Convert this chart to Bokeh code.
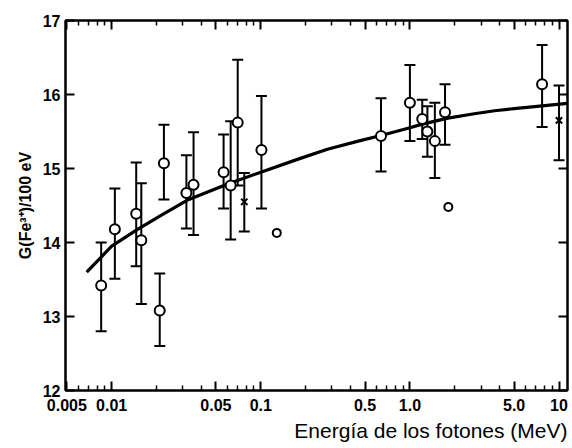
from bokeh.plotting import figure
from bokeh.models import (ColumnDataSource, Whisker, TeeHead, FixedTicker, LinearAxis,
                          LogAxis, Title, Range1d)
from bokeh.embed import file_html
from bokeh.resources import INLINE

# Circle data points with error bars
circ_x = [0.0085, 0.0105, 0.0146, 0.0158, 0.021, 0.0224, 0.0317, 0.0354, 0.0563, 0.0628,
          0.070, 0.101, 0.64, 1.0, 1.21, 1.31, 1.47, 1.72, 7.7]
circ_y = [13.42, 14.18, 14.39, 14.03, 13.08, 15.07, 14.67, 14.78, 14.95, 14.77,
          15.62, 15.25, 15.44, 15.89, 15.67, 15.50, 15.37, 15.76, 16.14]
circ_up = [0.58, 0.55, 0.69, 0.77, 0.50, 0.52, 0.51, 0.71, 0.51, 0.87,
           0.85, 0.73, 0.51, 0.51, 0.26, 0.34, 0.52, 0.38, 0.53]
circ_lo = [0.62, 0.67, 0.71, 0.86, 0.48, 0.49, 0.48, 0.68, 0.49, 0.73,
           0.85, 0.79, 0.48, 0.52, 0.27, 0.34, 0.50, 0.44, 0.58]

# Cross data points with error bars
cross_x = [0.0775, 10.0]
cross_y = [14.55, 15.65]
cross_up = [0.39, 0.47]
cross_lo = [0.40, 0.54]

# Circles without error bars
single_x = [0.128, 1.81]
single_y = [14.13, 14.48]

# Fitted curve
curve_x = [0.0068, 0.01, 0.015, 0.022, 0.032, 0.06, 0.1, 0.18, 0.28, 0.45, 0.65, 1.0,
           1.21, 1.8, 2.7, 3.7, 5.0, 11.4]
curve_y = [13.60, 13.95, 14.18, 14.38, 14.57, 14.79, 14.95, 15.13, 15.26, 15.37, 15.45, 15.55,
           15.60, 15.68, 15.74, 15.78, 15.81, 15.88]

x_major = [0.005, 0.01, 0.05, 0.1, 0.5, 1.0, 5.0, 10.0]
x_labels = {0.005: "0.005", 0.01: "0.01", 0.05: "0.05", 0.1: "0.1",
            0.5: "0.5", 1.0: "1.0", 5.0: "5.0", 10.0: "10"}
y_major = [12, 13, 14, 15, 16, 17]

x_minor = []
for dec in [0.001, 0.01, 0.1, 1.0]:
    for m in range(2, 10):
        v = round(m * dec, 6)
        if v not in x_major and 0.0049 <= v <= 11.4:
            x_minor.append(v)

FONT = "Liberation Sans"

p = figure(width=572, height=448, x_axis_type="log", output_backend="svg",
           toolbar_location=None, x_range=Range1d(0.0049, 11.4), y_range=Range1d(12, 17),
           min_border_left=65, min_border_right=5, min_border_top=20, min_border_bottom=58)
p.grid.visible = False
p.background_fill_color = "white"
p.border_fill_color = "white"
p.outline_line_color = "black"
p.outline_line_width = 2

def style_axis(ax, labels=True):
    ax.axis_line_width = 2
    ax.axis_line_color = "black"
    ax.major_tick_in = 9
    ax.major_tick_out = 0
    ax.minor_tick_in = 5
    ax.minor_tick_out = 0
    ax.major_tick_line_width = 2
    ax.minor_tick_line_width = 1.5
    if labels:
        ax.major_label_text_font = FONT
        ax.major_label_text_font_style = "bold"
        ax.major_label_text_font_size = "16px"
        ax.major_label_text_color = "black"
    else:
        ax.major_label_text_font_size = "1px"
        ax.major_label_text_color = None
        ax.major_label_standoff = 0

xt = FixedTicker(ticks=x_major, minor_ticks=x_minor)
yt = FixedTicker(ticks=y_major, minor_ticks=[])

xa = p.xaxis[0]
xa.ticker = xt
xa.major_label_overrides = x_labels
style_axis(xa)
xa.major_label_standoff = 8

ya = p.yaxis[0]
ya.ticker = yt
style_axis(ya)
ya.major_label_standoff = 5
ya.axis_label = "G(Fe³⁺)/100 eV"
ya.axis_label_text_font = FONT
ya.axis_label_text_font_style = "bold"
ya.axis_label_text_font_size = "16px"
ya.axis_label_text_color = "black"
ya.axis_label_standoff = 6

top = LogAxis(ticker=xt)
style_axis(top, labels=False)
p.add_layout(top, "above")
right = LinearAxis(ticker=yt)
style_axis(right, labels=False)
p.add_layout(right, "right")

p.add_layout(Title(text="Energía de los fotones (MeV)", align="right",
                   text_font=FONT, text_font_size="21px", text_font_style="normal",
                   text_color="black", standoff=6), "below")

# curve
p.line(curve_x, curve_y, line_width=3.2, line_color="black")

# error bars
def add_err(xs, ys, up, lo):
    src = ColumnDataSource(dict(x=xs, upper=[a + b for a, b in zip(ys, up)],
                                lower=[a - b for a, b in zip(ys, lo)]))
    w = Whisker(source=src, base="x", upper="upper", lower="lower", dimension="height",
                line_color="black", line_width=2,
                upper_head=TeeHead(size=11, line_width=2, line_color="black"),
                lower_head=TeeHead(size=11, line_width=2, line_color="black"))
    p.add_layout(w)

add_err(circ_x, circ_y, circ_up, circ_lo)
add_err(cross_x, cross_y, cross_up, cross_lo)

p.scatter(circ_x, circ_y, marker="circle", size=10, fill_color="white",
          line_color="black", line_width=2)
p.scatter(single_x, single_y, marker="circle", size=8, fill_color="white",
          line_color="black", line_width=2)
p.scatter(cross_x, cross_y, marker="x", size=9, line_color="black", line_width=2)

open("out.html", "w").write(file_html(p, INLINE))
